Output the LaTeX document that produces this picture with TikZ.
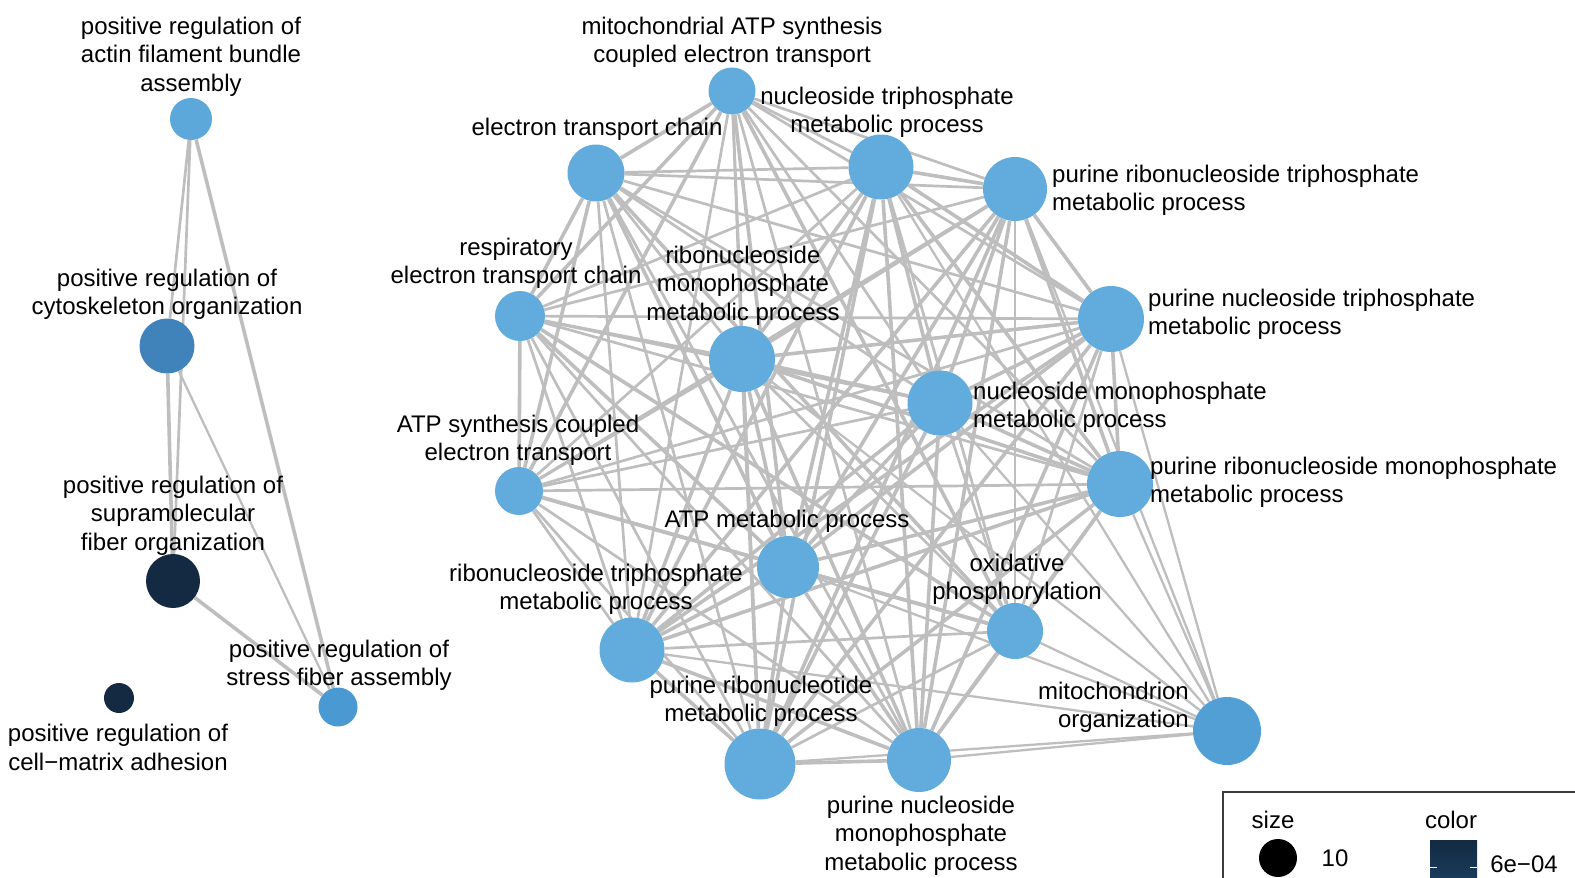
\documentclass[tikz,border=0pt]{standalone}
\usepackage{fontspec}
\setmainfont{Liberation Sans}
\pgfdeclarelayer{bg}
\pgfsetlayers{bg,main}
\definecolor{edgegray}{RGB}{190,190,190}
\definecolor{lblue}{RGB}{98,171,221}
\definecolor{ablue}{RGB}{93,168,218}
\definecolor{mblue}{RGB}{63,131,186}
\definecolor{sblue}{RGB}{74,153,211}
\definecolor{oblue}{RGB}{82,159,214}
\definecolor{navy}{RGB}{19,42,66}
\definecolor{navyb}{RGB}{27,62,94}
\definecolor{framegray}{RGB}{60,60,60}
\tikzset{
  gnode/.style={circle, inner sep=0pt, draw=none, fill=lblue},
  lbl/.style={font=\fontsize{24}{28.5}\selectfont, align=center, inner sep=0pt, text=black},
  lbll/.style={lbl, align=left, anchor=west},
  lblr/.style={lbl, align=right, anchor=east},
  edgethick/.style={draw=edgegray, line width=3.6pt},
  edgemid/.style={draw=edgegray, line width=2.7pt},
  edgethin/.style={draw=edgegray, line width=2.3pt},
}
\begin{document}
\begin{tikzpicture}[x=1pt,y=-1pt]
\useasboundingbox (0,0) rectangle (1575,878);

% ---------- left cluster nodes ----------
\node[gnode, fill=ablue, minimum size=42pt] (A1) at (191,119) {};
\node[gnode, fill=mblue, minimum size=55pt] (A2) at (167,346) {};
\node[gnode, fill=navy, minimum size=54pt] (A3) at (173,581) {};
\node[gnode, fill=sblue, minimum size=39pt] (A4) at (338,707) {};
\node[gnode, fill=navy, minimum size=30pt] (A5) at (119,698) {};

% ---------- right cluster nodes ----------
\node[gnode, minimum size=47pt] (m) at (732,91) {};
\node[gnode, minimum size=57pt] (e) at (596,173) {};
\node[gnode, minimum size=65pt] (nt) at (881,167) {};
\node[gnode, minimum size=64pt] (prt) at (1015,189) {};
\node[gnode, minimum size=50pt] (r) at (520,316) {};
\node[gnode, minimum size=66pt] (rmp) at (742,359) {};
\node[gnode, minimum size=66pt] (pnt) at (1111,319) {};
\node[gnode, minimum size=65pt] (nmp) at (940,403) {};
\node[gnode, minimum size=48pt] (as) at (519,491) {};
\node[gnode, minimum size=66pt] (prm) at (1120,484) {};
\node[gnode, minimum size=62pt] (am) at (788,567) {};
\node[gnode, minimum size=65pt] (rt) at (632,650) {};
\node[gnode, minimum size=56pt] (ox) at (1015,631) {};
\node[gnode, minimum size=71pt] (prn) at (760,764) {};
\node[gnode, minimum size=64pt] (pnm) at (919,760) {};
\node[gnode, fill=oblue, minimum size=68pt] (mo) at (1227,731) {};

% ---------- edges ----------
\begin{pgfonlayer}{bg}
  \draw[edgemid] (A1) -- (A2);
  \draw[edgemid] (A1) -- (A3);
  \draw[edgethick] (A1) -- (A4);
  \draw[edgethick] (A2) -- (A3);
  \draw[edgethin] (A2) -- (A4);
  \draw[edgethick] (A3) -- (A4);
  % nucleotide group (with ATP metabolic process)
  \foreach \a [count=\ia] in {nt,prt,rmp,pnt,nmp,prm,am,rt,prn,pnm}{
    \foreach \b [count=\ib] in {nt,prt,rmp,pnt,nmp,prm,am,rt,prn,pnm}{
      \ifnum\ib>\ia \draw[edgethick] (\a) -- (\b); \fi
    }
  }
  % electron transport group (with ATP metabolic process)
  \foreach \a [count=\ia] in {m,e,r,as,ox,am}{
    \foreach \b [count=\ib] in {m,e,r,as,ox,am}{
      \ifnum\ib>\ia \draw[edgethick] (\a) -- (\b); \fi
    }
  }
  % cross edges
  \foreach \a in {m,e,r,as,ox}{
    \foreach \b in {nt,prt,rmp,pnt,nmp,prm,rt,prn,pnm}{
      \draw[edgemid] (\a) -- (\b);
    }
  }
  % mitochondrion organization
  \foreach \b in {nt,prt,rmp,pnt,nmp,prm,am,rt,ox,prn,pnm}{
    \draw[edgethin] (mo) -- (\b);
  }
\end{pgfonlayer}

% ---------- labels ----------
\begin{scope}[shift={(0,2.5)}]
\node[lbl] (A1L) at (191,54) {positive regulation of\\actin filament bundle\\assembly};
\node[lbl] (A2L) at (167,292) {positive regulation of\\cytoskeleton organization};
\node[lbl] (A3L) at (173,513) {positive regulation of\\supramolecular\\fiber organization};
\node[lbl] (A4L) at (339,663) {positive regulation of\\stress fiber assembly};
\node[lbl] (A5L) at (118,745) {positive regulation of\\cell−matrix adhesion};

\node[lbl] (mL) at (732,40) {mitochondrial ATP synthesis\\coupled electron transport};
\node[lbl] (ntL) at (887,110) {nucleoside triphosphate\\metabolic process};
\node[lbl] (eL) at (597,127) {electron transport chain};
\node[lbll] (prtL) at (1052,188) {purine ribonucleoside triphosphate\\metabolic process};
\node[lbl] (rL) at (516,261) {respiratory\\electron transport chain};
\node[lbl] (rmpL) at (743,283) {ribonucleoside\\monophosphate\\metabolic process};
\node[lbll] (pntL) at (1148,312) {purine nucleoside triphosphate\\metabolic process};
\node[lbll] (nmpL) at (973,405) {nucleoside monophosphate\\metabolic process};
\node[lbl] (asL) at (518,438) {ATP synthesis coupled\\electron transport};
\node[lbll] (prmL) at (1150,480) {purine ribonucleoside monophosphate\\metabolic process};
\node[lbl] (amL) at (787,519) {ATP metabolic process};
\node[lbl] (rtL) at (596,587) {ribonucleoside triphosphate\\metabolic process};
\node[lbl] (oxL) at (1017,577) {oxidative\\phosphorylation};
\node[lbl] (prnL) at (761,699) {purine ribonucleotide\\metabolic process};
\node[lblr] (moL) at (1189,705) {mitochondrion\\organization};
\node[lbl] (pnmL) at (921,833) {purine nucleoside\\monophosphate\\metabolic process};
\end{scope}

% ---------- legend ----------
\coordinate (fr1) at (1223,885);
\coordinate (fr2) at (1223,792);
\coordinate (fr3) at (1590,792);
\draw[framegray, line width=1.2pt] (fr1) -- (fr2) -- (fr3);
\node[lbl] (sizeL) at (1273,820) {size};
\node[circle, fill=black, inner sep=0pt, minimum size=38pt] (sizeC) at (1278,858) {};
\node[lbl] (tenL) at (1335,858) {10};
\node[lbl] (colorL) at (1451,820) {color};
\shade[top color=navy, bottom color=navyb] (1430,840) rectangle (1477,885);
\coordinate (t1a) at (1430,867); \coordinate (t1b) at (1437,867);
\coordinate (t2a) at (1470,867); \coordinate (t2b) at (1477,867);
\draw[white, line width=1pt] (t1a) -- (t1b);
\draw[white, line width=1pt] (t2a) -- (t2b);
\node[lbl] (valL) at (1524,864) {6e−04};
\end{tikzpicture}
\end{document}
